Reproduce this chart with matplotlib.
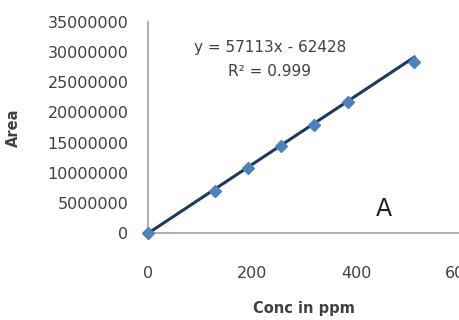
import numpy as np
import matplotlib
matplotlib.use("Agg")
import matplotlib.pyplot as plt

# calibration data
conc = [0, 128, 192, 256, 320, 384, 512]
area = [0, 7.0e6, 10.8e6, 14.4e6, 18.0e6, 21.7e6, 28.4e6]

slope = 57113
intercept = -62428
equation = "y = 57113x - 62428"
r2_text = "R² = 0.999"

x_ticks = [0, 200, 400, 600]
y_ticks = [0, 5000000, 10000000, 15000000, 20000000, 25000000, 30000000, 35000000]

plt.rcParams["font.family"] = ["DejaVu Sans"]
txt = "#404040"

fig = plt.figure(figsize=(4.59, 3.2), dpi=100)
ax = fig.add_axes([0.3224, 0.272, 0.68, 0.659])

fit_x = np.array([conc[0], conc[-1]])
ax.plot(fit_x, slope * fit_x + intercept, color="#1b3a5c", lw=2.2, zorder=2)
ax.plot(conc, area, linestyle="none", marker="D", markersize=6,
        color="#4f81bd", zorder=3, clip_on=False)

ax.set_xlim(0, 600)
ax.set_ylim(0, 35000000)
ax.set_xticks(x_ticks)
ax.set_yticks(y_ticks)
ax.set_xticklabels([str(v) for v in x_ticks])
ax.set_yticklabels([str(v) for v in y_ticks])

for s in ["top", "right"]:
    ax.spines[s].set_visible(False)
for s in ["left", "bottom"]:
    ax.spines[s].set_color("#a0a0a0")
    ax.spines[s].set_linewidth(1.2)

ax.tick_params(axis="both", length=0, labelsize=11.5, colors=txt)
ax.tick_params(axis="x", pad=24)
ax.tick_params(axis="y", pad=14)

ax.set_xlabel("Conc in ppm", fontsize=10.5, fontweight="bold", color=txt, labelpad=14)
ax.set_ylabel("Area", fontsize=10.5, fontweight="bold", color=txt, labelpad=19)

ax.text(0.392, 0.86, equation, transform=ax.transAxes, fontsize=11, color=txt, ha="center")
ax.text(0.39, 0.745, r2_text, transform=ax.transAxes, fontsize=11, color=txt, ha="center")
ax.text(0.755, 0.08, "A", transform=ax.transAxes, fontsize=17, color="#202020", ha="center")

fig.savefig("out.png", dpi=100)
